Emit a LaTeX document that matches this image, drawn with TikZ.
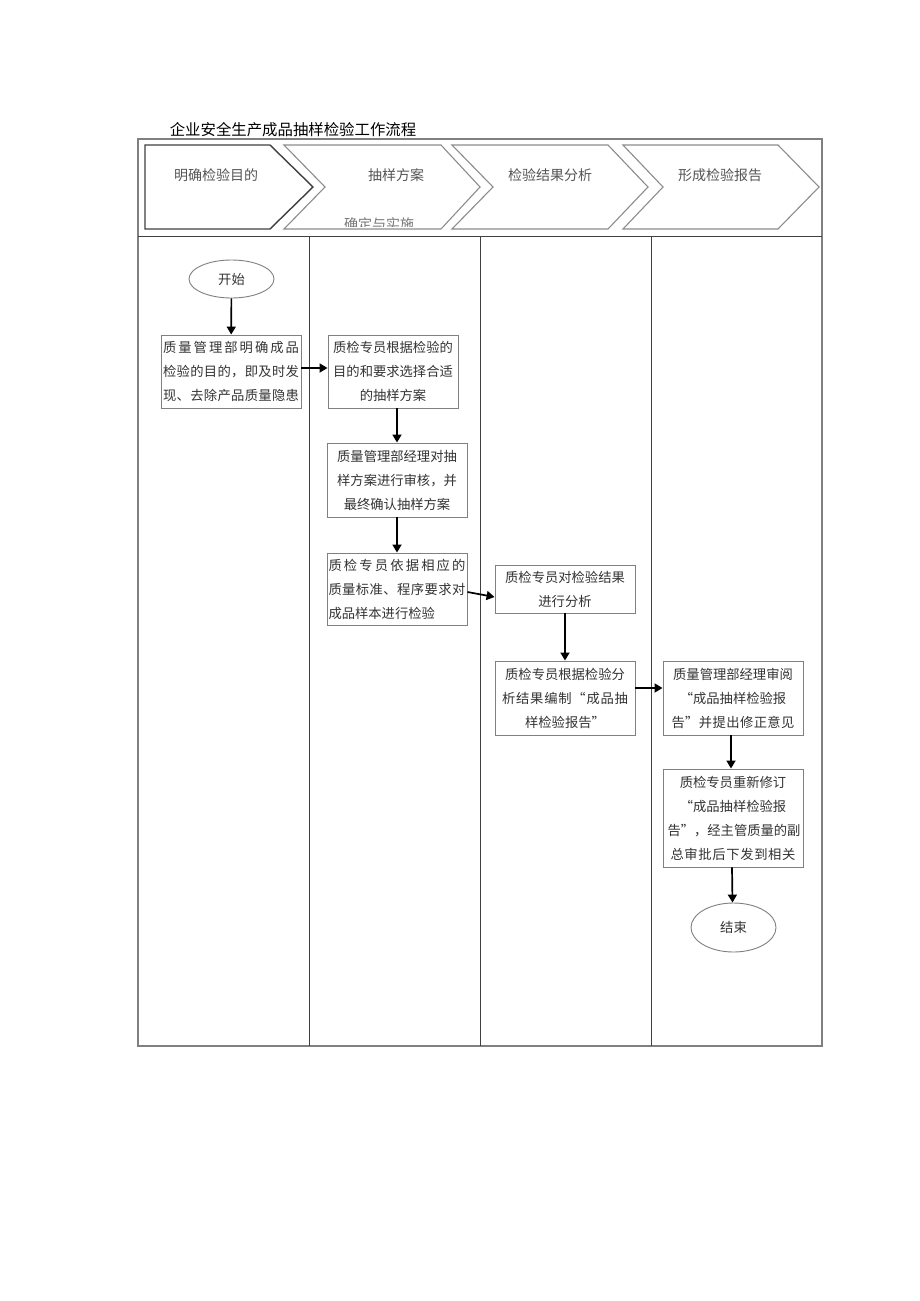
\documentclass[tikz,border=0pt]{standalone}
\usepackage{fontspec}
\newfontfamily\cjk{Noto Sans CJK SC}
\usetikzlibrary{arrows.meta,shapes.geometric}
\definecolor{boxline}{HTML}{808080}
\definecolor{txt}{HTML}{333333}
\definecolor{hdrtxt}{HTML}{555555}
\definecolor{chev}{HTML}{8C8C8C}
\definecolor{lane}{HTML}{404040}
\makeatletter
\def\jl#1#2{\leavevmode\hbox to #1{\jl@a#2\@nil}}
\def\jl@a#1{#1\jl@b}
\def\jl@b#1{\ifx\@nil#1\else\hfill#1\expandafter\jl@b\fi}
\makeatother
\begin{document}
\begin{tikzpicture}[x=1pt,y=-1pt,
  stepbox/.style={draw=boxline,line width=0.9pt,fill=white,inner sep=0pt,
    minimum width=140pt,text width=134pt,align=center,text=txt,
    font=\cjk\fontsize{13.3}{24}\selectfont},
  term/.style={draw=boxline,line width=0.9pt,ellipse,inner sep=0pt,
    minimum width=85pt,text=txt,font=\cjk\fontsize{13.3}{16}\selectfont},
  arr/.style={line width=1.7pt,black,-{Triangle[length=8pt,width=9pt]}},
  hdr/.style={text=hdrtxt,font=\cjk\fontsize{14}{16}\selectfont,inner sep=0pt},
  chevron/.style={draw=chev,line width=1.1pt,line join=miter}]
\useasboundingbox[fill=white] (0,0) rectangle (920,1301);

% title
\node[font=\cjk\fontsize{15.4}{18}\selectfont,text=black,inner sep=0pt] (title) at (293,130) {企业安全生产成品抽样检验工作流程};

% frame and lanes
\draw[draw=boxline,line width=1.4pt] (138,139) rectangle (822,1046);
\draw[draw=lane,line width=0.9pt] (138,236) -- (822,236);
\draw[draw=lane,line width=0.9pt] (309.5,236) -- (309.5,1046);
\draw[draw=lane,line width=0.9pt] (480.5,236) -- (480.5,1046);
\draw[draw=lane,line width=0.9pt] (651,236) -- (651,1046);

% header chevrons
\draw[draw=lane,line width=1.4pt,line join=miter] (145,145) -- (270,145) -- (313,187) -- (270,229) -- (145,229) -- cycle;
\draw[chevron] (284,145) -- (441,145) -- (480,187) -- (441,229) -- (284,229) -- (325,187) -- cycle;
\draw[chevron] (452,145) -- (608,145) -- (648,187) -- (608,229) -- (452,229) -- (493,187) -- cycle;
\draw[chevron] (623,145) -- (778,145) -- (819,187) -- (778,229) -- (623,229) -- (663,187) -- cycle;

\node[hdr] (h1) at (216,175) {明确检验目的};
\node[hdr] (h2) at (396,175) {抽样方案};
\node[hdr] (h3) at (550,175) {检验结果分析};
\node[hdr] (h4) at (720,175) {形成检验报告};
\begin{scope}
\clip (330,205) rectangle (430,226.5);
\node[hdr,text=hdrtxt!80] (h2b) at (379,224.5) {确定与实施};
\end{scope}

% nodes
\node[term,minimum height=38pt] (start) at (231.5,279) {开始};

\node[stepbox,minimum height=73pt,text width=136pt] (b1) at (231,371.5)
  {\jl{136pt}{质量管理部明确成品}\\\jl{136pt}{检验的目的，即及时发}\\\jl{136pt}{现、去除产品质量隐患}};
\node[stepbox,minimum width=130pt,text width=126pt,minimum height=73pt] (b2) at (393,371.5)
  {质检专员根据检验的\\目的和要求选择合适\\的抽样方案};
\node[stepbox,minimum height=74pt] (b3) at (397,480)
  {质量管理部经理对抽\\样方案进行审核，并\\最终确认抽样方案};
\node[stepbox,minimum height=72pt,text width=137pt] (b4) at (397,589)
  {\jl{137pt}{质检专员依据相应的}\\\jl{137pt}{质量标准、程序要求对}\\\makebox[137pt][l]{成品样本进行检验}};
\node[stepbox,minimum height=48pt] (b5) at (565,589)
  {质检专员对检验结果\\进行分析};
\node[stepbox,minimum height=74pt] (b6) at (565,698)
  {质检专员根据检验分\\\jl{126pt}{析结果编制“成品抽}\\样检验报告”};
\node[stepbox,minimum height=74pt] (b7) at (733,698)
  {质量管理部经理审阅\\“成品抽样检验报\\\jl{123pt}{告”并提出修正意见}};
\node[stepbox,minimum height=98pt] (b8) at (733,818)
  {质检专员重新修订\\“成品抽样检验报\\\jl{131pt}{告”，经主管质量的副}\\\jl{125pt}{总审批后下发到相关}};

\node[term,minimum height=49pt] (end) at (733.5,927.5) {结束};

% connectors
\draw[arr] (start) -- (b1);
\draw[arr] ([yshift=3.5pt]b1.east) -- ([yshift=3.5pt]b2.west);
\draw[arr] (b3.north |- b2.south) -- (b3.north);
\draw[arr] (b3) -- (b4);
\draw[arr] ([yshift=-3pt]b4.east) -- ([yshift=-8pt]b5.west);
\draw[arr] (b5) -- (b6);
\draw[arr] ([yshift=10pt]b6.east) -- ([yshift=10pt]b7.west);
\draw[arr] ([xshift=-2pt]b7.south) -- ([xshift=-2pt]b8.north);
\draw[arr] ([xshift=-1pt]b8.south) -- ([xshift=-1pt]end.north);
\end{tikzpicture}
\end{document}
